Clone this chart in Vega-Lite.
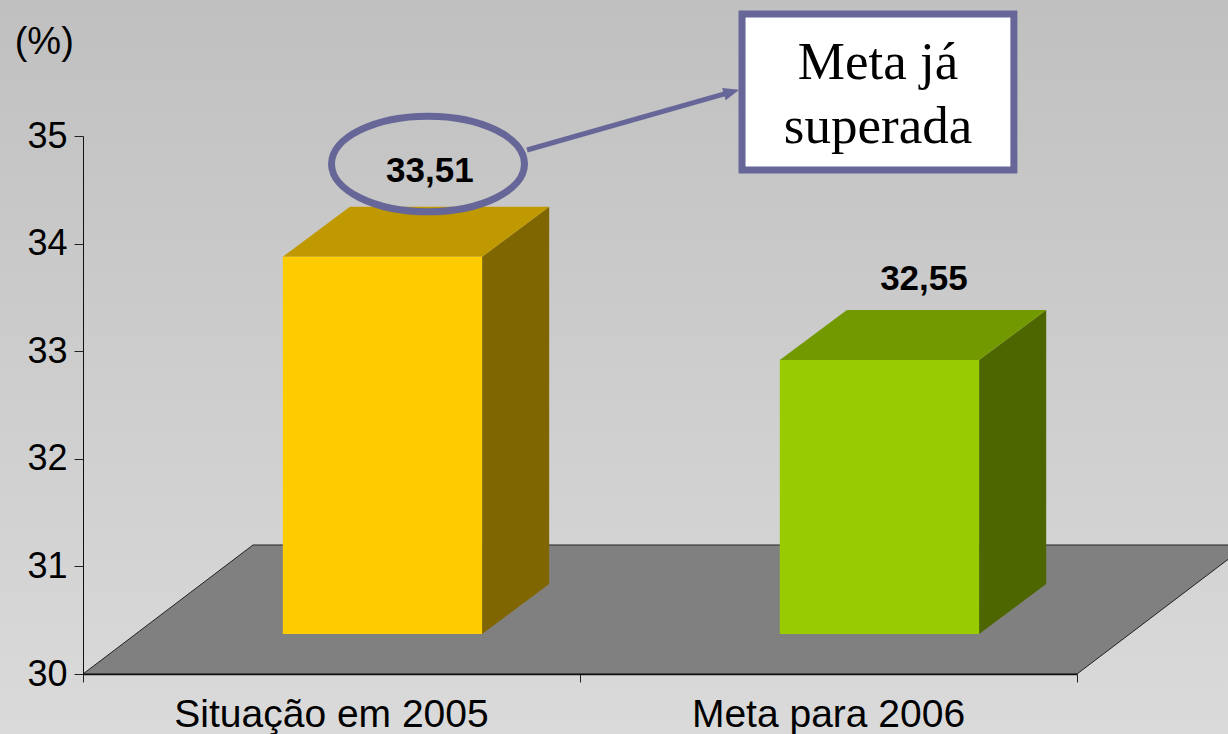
{
"$schema":"https://vega.github.io/schema/vega-lite/v6.json",
"width":994,"height":538,
"autosize":{"type":"none"},
"padding":{"left":83,"top":136,"right":151,"bottom":60},
"background":"#cccccc",
"config":{"view":{"stroke":null},"font":"Liberation Sans","axis":{"grid":false,"title":null}},
"datasets":{
"bars":[{"label":"Situação em 2005","value":33.51,"index":0},{"label":"Meta para 2006","value":32.55,"index":1}],
"depth":[{"depth":0},{"depth":1}]
},
"layer":[
{"data":{"values":[{}]},
 "mark":{"type":"rect","color":{"gradient":"linear","x1":0,"y1":0,"x2":0,"y2":1,"stops":[{"offset":0,"color":"#c0c0c0"},{"offset":1,"color":"#dadada"}]}},
 "encoding":{
  "x":{"datum":-0.17,"type":"quantitative","scale":{"domain":[0,2]},"axis":{"values":[0,1,2],"labels":false,"tickSize":8,"tickColor":"#222222","domainColor":"#111111","domainWidth":1.5,"zindex":1}},
  "x2":{"datum":2.31},
  "y":{"datum":36.27,"type":"quantitative","scale":{"domain":[30,35]},"axis":{"values":[30,31,32,33,34,35],"format":"d","labelFontSize":36,"labelColor":"#000000","labelFont":"Liberation Sans","tickSize":9,"tickColor":"#222222","domainColor":"#111111","labelPadding":7,"zindex":1}},
  "y2":{"datum":29.44}}},
{"data":{"name":"depth"},
 "transform":[{"calculate":"datum.depth*0.342","as":"xa"},{"calculate":"2+datum.depth*0.342","as":"xb"},{"calculate":"30+datum.depth*1.199","as":"yy"}],
 "mark":{"type":"area","orient":"horizontal","color":"#808080","stroke":"#222222","strokeWidth":1},
 "encoding":{"y":{"field":"yy","type":"quantitative"},"x":{"field":"xa","type":"quantitative"},"x2":{"field":"xb"}}},
{"data":{"name":"bars"},
 "transform":[{"calculate":"[0,1]","as":"depth"},{"flatten":["depth"]},{"calculate":"datum.index+0.803+datum.depth*0.135","as":"xs"},{"calculate":"datum.value+0.368+datum.depth*0.465","as":"yt"},{"calculate":"30.372+datum.depth*0.465","as":"yb"}],
 "mark":{"type":"area","orient":"vertical"},
 "encoding":{"x":{"field":"xs","type":"quantitative"},"y":{"field":"yt","type":"quantitative"},"y2":{"field":"yb"},
  "color":{"field":"label","type":"nominal","legend":null,"scale":{"domain":["Situação em 2005","Meta para 2006"],"range":["#806600","#4d6600"]}}}},
{"data":{"name":"bars"},
 "transform":[{"calculate":"[0,1]","as":"depth"},{"flatten":["depth"]},{"calculate":"datum.index+0.402+datum.depth*0.135","as":"xa"},{"calculate":"datum.index+0.803+datum.depth*0.135","as":"xb"},{"calculate":"datum.value+0.368+datum.depth*0.465","as":"yt"}],
 "mark":{"type":"area","orient":"horizontal"},
 "encoding":{"y":{"field":"yt","type":"quantitative"},"x":{"field":"xa","type":"quantitative"},"x2":{"field":"xb"},
  "color":{"field":"label","type":"nominal","legend":null,"scale":{"domain":["Situação em 2005","Meta para 2006"],"range":["#c09900","#739900"]}}}},
{"data":{"name":"bars"},
 "transform":[{"calculate":"datum.index+0.402","as":"xa"},{"calculate":"datum.index+0.803","as":"xb"},{"calculate":"datum.value+0.368","as":"yt"},{"calculate":"30.372","as":"yb"}],
 "mark":{"type":"rect"},
 "encoding":{"x":{"field":"xa","type":"quantitative"},"x2":{"field":"xb"},"y":{"field":"yt","type":"quantitative"},"y2":{"field":"yb"},
  "color":{"field":"label","type":"nominal","legend":null,"scale":{"domain":["Situação em 2005","Meta para 2006"],"range":["#ffcc00","#99cc00"]}}}},
{"data":{"name":"bars"},
 "transform":[{"calculate":"replace(format(datum.value,'.2f'),'.',',')","as":"txt"},{"calculate":"datum.index+(datum.index==0?0.698:0.692)","as":"xt"},{"calculate":"datum.value+(datum.index==0?1.062:1.02)","as":"yt"}],
 "mark":{"type":"text","font":"Liberation Sans","fontWeight":"bold","fontSize":35,"color":"#000000","align":"center","baseline":"alphabetic"},
 "encoding":{"x":{"field":"xt","type":"quantitative"},"y":{"field":"yt","type":"quantitative"},"text":{"field":"txt"}}},
{"data":{"name":"bars"},
 "transform":[{"calculate":"datum.index+0.5","as":"xt"},{"calculate":"29.507","as":"yt"}],
 "mark":{"type":"text","font":"Liberation Sans","fontSize":39,"color":"#000000","align":"center","baseline":"alphabetic"},
 "encoding":{"x":{"field":"xt","type":"quantitative"},"y":{"field":"yt","type":"quantitative"},"text":{"field":"label"}}},
{"data":{"values":[{"t":"(%)"}]},
 "mark":{"type":"text","font":"Liberation Sans","fontSize":38,"color":"#000000","align":"center","baseline":"alphabetic"},
 "encoding":{"x":{"datum":-0.078,"type":"quantitative"},"y":{"datum":35.76,"type":"quantitative"},"text":{"field":"t"}}},
{"data":{"values":[{}]},
 "mark":{"type":"point","shape":"M-1,0A1,0.495 0 1,1 1,0A1,0.495 0 1,1 -1,0Z","size":37250,"filled":false,"stroke":"#666699","strokeWidth":7,"opacity":1},
 "encoding":{"x":{"datum":0.6942,"type":"quantitative"},"y":{"datum":34.74,"type":"quantitative"}}},
{"data":{"values":[{}]},
 "mark":{"type":"rule","stroke":"#666699","strokeWidth":5},
 "encoding":{"x":{"datum":0.8934,"type":"quantitative"},"x2":{"datum":1.2978},"y":{"datum":34.87,"type":"quantitative"},"y2":{"datum":35.4}}},
{"data":{"values":[{}]},
 "mark":{"type":"point","shape":"M1,0L-1,-0.8L-1,0.8Z","size":256,"filled":true,"color":"#666699","opacity":1,"angle":344},
 "encoding":{"x":{"datum":1.305,"type":"quantitative"},"y":{"datum":35.41,"type":"quantitative"}}},
{"data":{"values":[{}]},
 "mark":{"type":"rect","fill":"#ffffff","stroke":"#666699","strokeWidth":7},
 "encoding":{"x":{"datum":1.326,"type":"quantitative"},"x2":{"datum":1.873},"y":{"datum":36.134,"type":"quantitative"},"y2":{"datum":34.684}}},
{"data":{"values":[{"t":"Meta já","yy":35.53},{"t":"superada","yy":34.935}]},
 "mark":{"type":"text","font":"Liberation Serif","fontSize":53,"color":"#000000","align":"center","baseline":"alphabetic"},
 "encoding":{"x":{"datum":1.5996,"type":"quantitative"},"y":{"field":"yy","type":"quantitative"},"text":{"field":"t"}}}
],
"resolve":{"scale":{"color":"independent"}}
}
